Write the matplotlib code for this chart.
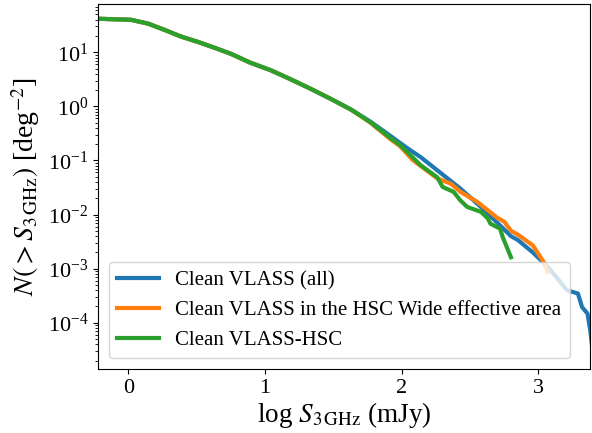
import matplotlib
matplotlib.use("Agg")
import matplotlib.pyplot as plt
import numpy as np

plt.rcParams["font.family"] = ["Liberation Serif", "DejaVu Serif"]
plt.rcParams["mathtext.fontset"] = "stix"

# Bright end: the three samples lie on top of each other here
common_logs = [-0.22, 0.02, 0.144, 0.269, 0.386, 0.511, 0.635, 0.752, 0.89,
               1.04, 1.18, 1.33, 1.48, 1.63]
common_logn = [1.62, 1.60, 1.53, 1.41, 1.29, 1.19, 1.08, 0.97, 0.81,
               0.67, 0.51, 0.33, 0.14, -0.06]

# Clean VLASS (all)
all_logs = [1.77, 1.92, 2.04, 2.14, 2.28, 2.43, 2.58, 2.72, 2.80, 2.85, 2.96,
            3.07, 3.14, 3.21, 3.29, 3.32, 3.36, 3.38, 3.40]
all_logn = [-0.28, -0.55, -0.77, -0.94, -1.22, -1.52, -1.86, -2.20, -2.40, -2.47, -2.70,
            -2.97, -3.18, -3.40, -3.46, -3.71, -3.83, -4.14, -4.57]

# Clean VLASS in the HSC Wide effective area
area_logs = [1.77, 1.92, 1.99, 2.08, 2.26, 2.36, 2.43, 2.55, 2.63, 2.70, 2.75,
             2.80, 2.85, 2.96, 3.04, 3.07]
area_logn = [-0.30, -0.61, -0.74, -0.99, -1.33, -1.43, -1.58, -1.76, -1.92, -2.06, -2.13,
             -2.30, -2.37, -2.57, -2.88, -3.06]

# Clean VLASS-HSC
hsc_logs = [1.77, 1.92, 1.99, 2.14, 2.26, 2.30, 2.38, 2.43, 2.48, 2.58, 2.63,
            2.65, 2.72, 2.74, 2.80]
hsc_logn = [-0.29, -0.59, -0.72, -1.09, -1.31, -1.49, -1.58, -1.74, -1.86, -1.95, -2.07,
            -2.17, -2.26, -2.42, -2.79]

labels = ["Clean VLASS (all)",
          "Clean VLASS in the HSC Wide effective area",
          "Clean VLASS-HSC"]


def curve(logs, logn):
    x = np.array(common_logs + logs)
    y = 10 ** np.array(common_logn + logn)
    return x, y


fig, ax = plt.subplots(figsize=(5.92, 4.33), dpi=100)
for (logs, logn), lab in zip([(all_logs, all_logn), (area_logs, area_logn),
                              (hsc_logs, hsc_logn)], labels):
    x, y = curve(logs, logn)
    ax.plot(x, y, lw=3, label=lab)

ax.set_yscale("log")
ax.set_xlim(-0.22, 3.38)
ax.set_ylim(1.4e-5, 77)
ax.set_xticks([0, 1, 2, 3])
ax.tick_params(labelsize=16)
ax.set_xlabel(r"log $S_{\rm 3\,GHz}$ (mJy)", fontsize=19.5, labelpad=2)
ax.set_ylabel(r"$N(>S_{\rm 3\,GHz})$ [deg$^{-2}$]", fontsize=20)
ax.legend(loc="lower left", fontsize=15)

fig.subplots_adjust(left=0.166, right=0.997, top=0.99, bottom=0.148)
fig.savefig("out.png", dpi=100)
